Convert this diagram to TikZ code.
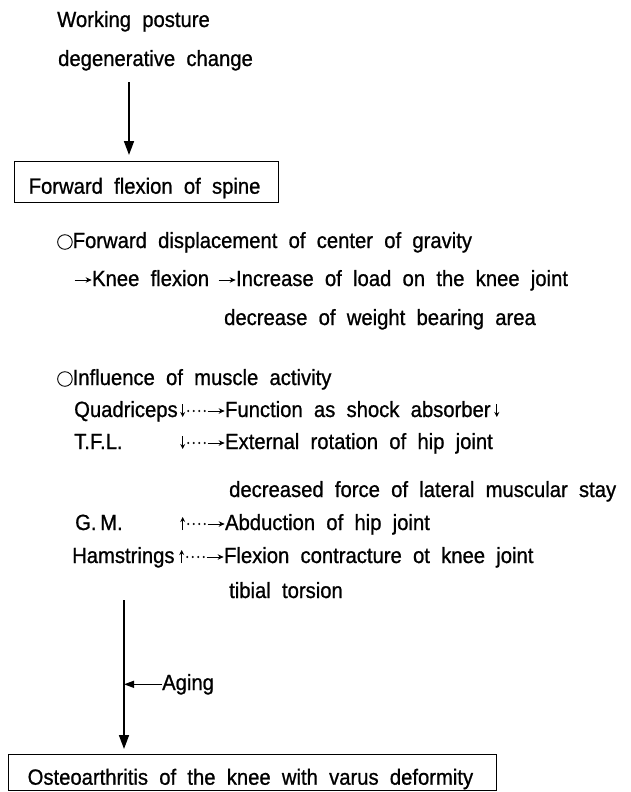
\documentclass[tikz,border=0pt]{standalone}
\usepackage{fontspec}
\setmainfont{Liberation Sans}[FakeStretch=0.92, WordSpace=2.0, FakeBold=0.9]
\usetikzlibrary{arrows.meta}
\newcommand\Rcirc{\tikz[baseline=0pt]\draw[line width=0.9pt] (8pt,6pt) circle[radius=7.3pt];}
\newcommand\Rra{\tikz[baseline=0pt]\draw[line width=0.9pt,-{Stealth[length=6pt,width=5.5pt]}] (0pt,6pt)--(17pt,6pt);}
\newcommand\Rda{\tikz[baseline=0pt]\draw[line width=0.9pt,-{Stealth[length=5pt,width=5pt]}] (3pt,13pt)--(3pt,0pt);}
\newcommand\Rua{\tikz[baseline=0pt]\draw[line width=0.9pt,-{Stealth[length=5pt,width=5pt]}] (3pt,0pt)--(3pt,13pt);}
\newcommand\Rdots{\tikz[baseline=0pt]{\fill (3pt,6pt) circle[radius=1.1pt] (8.5pt,6pt) circle[radius=1.1pt] (14pt,6pt) circle[radius=1.1pt] (19.5pt,6pt) circle[radius=1.1pt];\path (0pt,6pt)--(22pt,6pt);}}
\begin{document}
\begin{tikzpicture}[x=1pt,y=-1pt,
  font=\fontsize{22}{26}\selectfont,
  txt/.style={anchor=base west, inner sep=0pt},
  boxnode/.style={draw, line width=1.4pt, anchor=north west, inner ysep=0pt, align=left},
  flow/.style={line width=1.6pt, -{Triangle[length=14pt,width=10pt]}},
  agearrow/.style={line width=1.3pt, -{Triangle[length=10pt,width=7pt]}}]
\useasboundingbox (0,0) rectangle (630,792);
% top
\node[txt] (wp) at (57,27) {Working posture};
\node[txt] (dc) at (58,66) {degenerative change};
\node[boxnode, minimum width=264pt, minimum height=41pt, inner xsep=14pt, text width=236pt, text height=25pt, text depth=2pt] (b1) at (14,161) {\spaceskip=0pt\relax Forward flexion of spine};
\coordinate (a1) at (129,82);
\draw[flow, shorten >=6pt] (a1) -- (a1 |- b1.north);
% displacement
\node[txt] (fd) at (57,248) {\Rcirc Forward displacement of center of gravity};
\node[txt] (kf) at (74,286) {\Rra Knee flexion};
\node[txt] (inc) at (218,286) {\Rra Increase of load on the knee joint};
\node[txt] (dw) at (224,325) {decrease of weight bearing area};
% muscles
\node[txt] (inf) at (57,385) {\Rcirc Influence of muscle activity};
\node[txt] (qd) at (74,417) {Quadriceps};
\node[txt] (qdE) at (180,417) {\Rda\Rdots\Rra Function as shock absorber\,\Rda};
\node[txt] (tfl) at (74,449) {T.F.L.};
\node[txt] (tflE) at (180,449) {\Rda\Rdots\Rra External rotation of hip joint};
\node[txt] (dfl) at (229,497) {decreased force of lateral muscular stay};
\node[txt] (gm) at (75,530) {G.\,M.};
\node[txt] (gmE) at (180,530) {\Rua\Rdots\Rra Abduction of hip joint};
\node[txt] (hm) at (72,563) {Hamstrings};
\node[txt] (hmE) at (179,563) {\Rua\Rdots\Rra Flexion contracture ot knee joint};
\node[txt] (tt) at (229,598) {tibial torsion};
% bottom
\node[boxnode, minimum width=488pt, minimum height=36pt, inner xsep=19pt, text width=450pt, text height=26pt, text depth=2pt] (b2) at (8,754) {\spaceskip=0pt\relax Osteoarthritis of the knee with varus deformity};
\coordinate (a2) at (124,600);
\draw[flow, shorten >=5pt] (a2) -- (a2 |- b2.north);
\node[txt] (ag) at (162,690) {Aging};
\draw[agearrow] (ag.west) -- (ag.west -| a2);
\end{tikzpicture}
\end{document}
